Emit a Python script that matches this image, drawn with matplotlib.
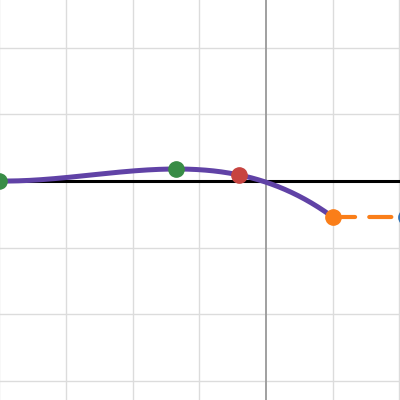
import numpy as np
from matplotlib import pyplot as plt

# points (graph units)
curve_x = [-4.0, -1.35, -0.40, 1.0]
curve_y = [0.0, 0.18, 0.09, -0.54]
green_x = [-4.0, -1.35]
green_y = [0.0, 0.18]
red_x = [-0.40]
red_y = [0.09]
orange_x = [1.0, 2.1]
orange_y = [-0.54, -0.54]
blue_x = [2.1]
blue_y = [-0.54]

fig = plt.figure(figsize=(4, 4), dpi=100)
ax = fig.add_axes([0, 0, 1, 1])
ax.set_xlim(-3.99, 2.01)
ax.set_ylim(-3.285, 2.715)

# grid
for gx in range(-4, 3):
    if gx != 0:
        ax.axvline(gx, color='#dcdcdc', lw=1.0, zorder=0)
for gy in range(-3, 3):
    ax.axhline(gy, color='#dcdcdc', lw=1.0, zorder=0)
ax.axvline(0, color='#999999', lw=1.3, zorder=1)
ax.axhline(0, color='#000000', lw=2.2, zorder=2)

# smooth curve through the points
coef = np.polyfit(curve_x, curve_y, 3)
xs = np.linspace(curve_x[0], curve_x[-1], 300)
ax.plot(xs, np.polyval(coef, xs), color='#6042a6', lw=3.6, zorder=3, solid_capstyle='round')

ax.plot(orange_x, orange_y, color='#fa7e19', lw=3.0, ls=(0, (5.3, 3.4)),
        dash_capstyle='round', zorder=3)

ax.plot(green_x, green_y, 'o', color='#388c46', ms=11, zorder=4)
ax.plot(red_x, red_y, 'o', color='#c74440', ms=11, zorder=4)
ax.plot(orange_x[:1], orange_y[:1], 'o', color='#fa7e19', ms=11, zorder=4)
ax.plot(blue_x, blue_y, 'o', color='#2d70b3', ms=11, zorder=4)

ax.set_xticks([])
ax.set_yticks([])
for s in ax.spines.values():
    s.set_visible(False)

plt.savefig('out.png', dpi=100)
